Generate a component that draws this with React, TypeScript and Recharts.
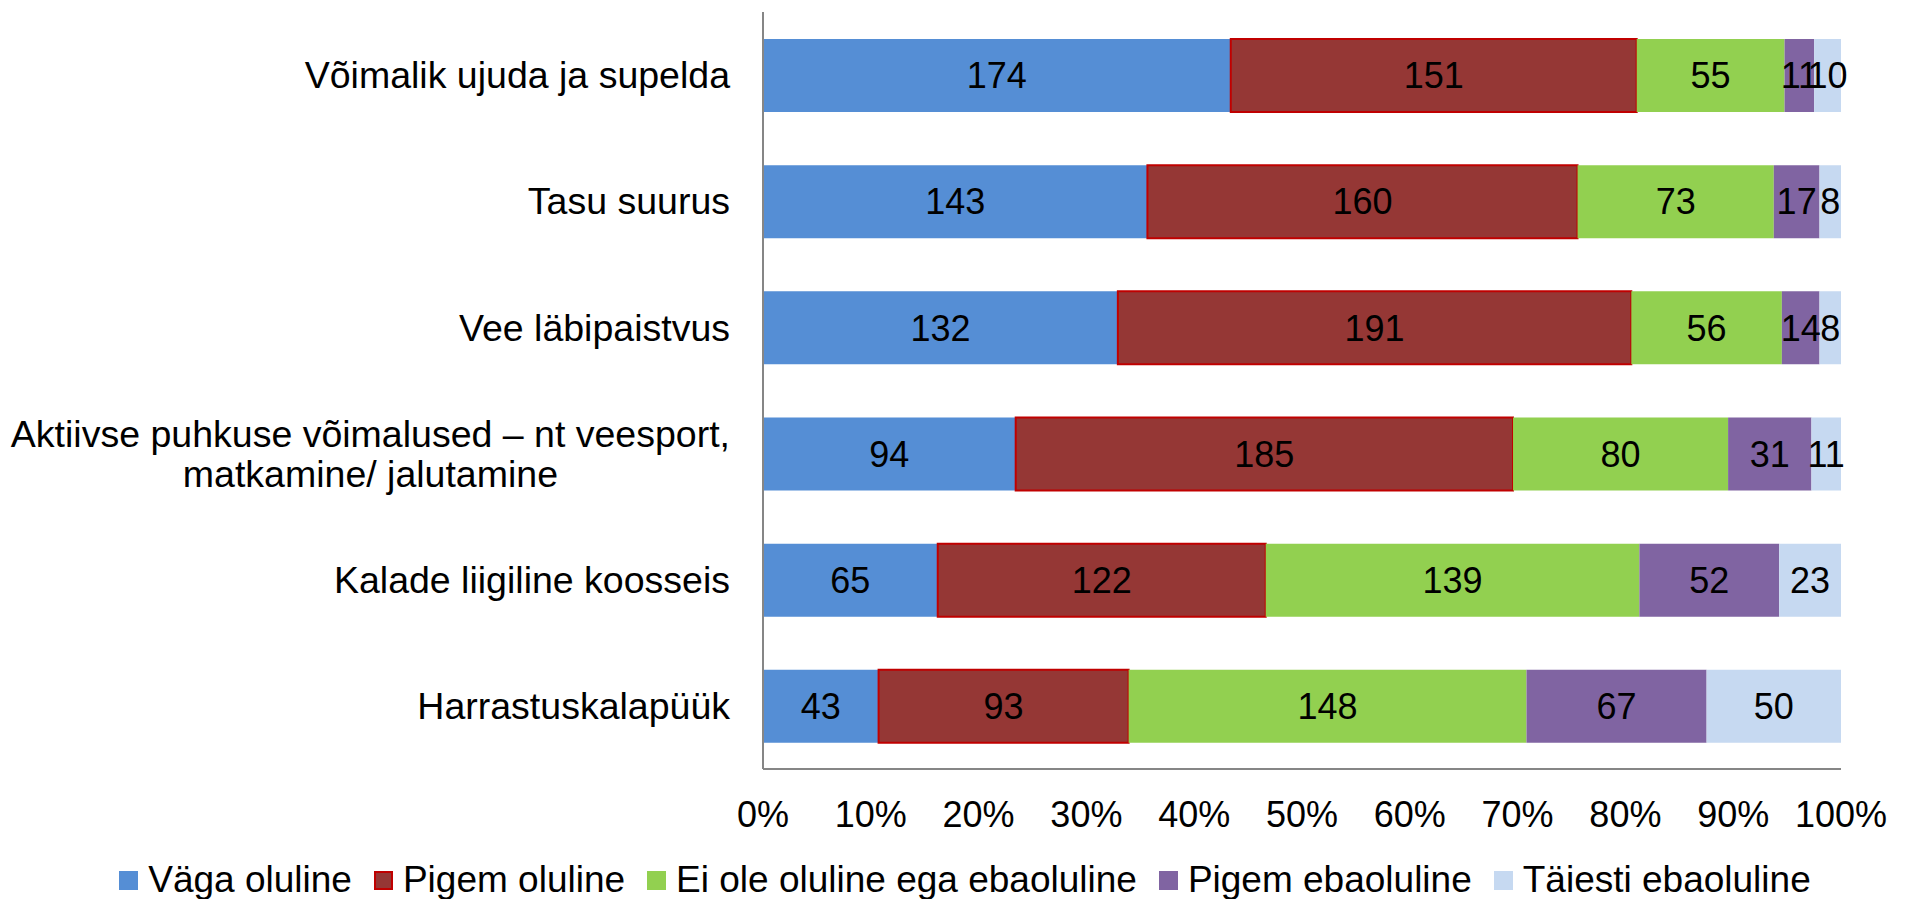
import React from 'react';
import { BarChart, Bar, XAxis, YAxis, LabelList } from 'recharts';

const FONT = '"Liberation Sans", Arial, sans-serif';
const CAT_SIZE = 37.5;

const categories = [
  'Võimalik ujuda ja supelda',
  'Tasu suurus',
  'Vee läbipaistvus',
  'Aktiivse puhkuse võimalused – nt veesport,\nmatkamine/ jalutamine',
  'Kalade liigiline koosseis',
  'Harrastuskalapüük',
];

const vagaOluline = [174, 143, 132, 94, 65, 43];
const pigemOluline = [151, 160, 191, 185, 122, 93];
const eiOleOluline = [55, 73, 56, 80, 139, 148];
const pigemEbaoluline = [11, 17, 14, 31, 52, 67];
const taiestiEbaoluline = [10, 8, 8, 11, 23, 50];

const xTicks = [0, 0.1, 0.2, 0.3, 0.4, 0.5, 0.6, 0.7, 0.8, 0.9, 1];

const SERIES = [
  { key: 'vaga', name: 'Väga oluline', values: vagaOluline, fill: '#558ED5', stroke: 'none' },
  { key: 'pigem', name: 'Pigem oluline', values: pigemOluline, fill: '#953735', stroke: '#C00000' },
  { key: 'eiole', name: 'Ei ole oluline ega ebaoluline', values: eiOleOluline, fill: '#92D050', stroke: 'none' },
  { key: 'pigemeba', name: 'Pigem ebaoluline', values: pigemEbaoluline, fill: '#8064A2', stroke: 'none' },
  { key: 'taiesti', name: 'Täiesti ebaoluline', values: taiestiEbaoluline, fill: '#C6D9F1', stroke: 'none' },
];

const rows = categories.map((c, i) => {
  const row: any = { category: c };
  SERIES.forEach((s) => { row[s.key] = s.values[i]; });
  return row;
});

let measureCtx: CanvasRenderingContext2D | null = null;
function textWidth(t: string) {
  if (!measureCtx) measureCtx = document.createElement('canvas').getContext('2d');
  if (!measureCtx) return t.length * 18;
  measureCtx.font = `${CAT_SIZE}px ${FONT}`;
  return measureCtx.measureText(t).width;
}

// category labels, the long one goes on two centred lines
function CategoryTick({ x, y, payload }: any) {
  const lines = String(payload?.value ?? '').split('\n');
  if (lines.length === 1) {
    return (
      <text x={x} y={y} dy="0.35em" textAnchor="end" fontSize={CAT_SIZE} fontFamily={FONT} fill="#000">
        {lines[0]}
      </text>
    );
  }
  const cx = x - textWidth(lines[0]) / 2;
  return (
    <text x={cx} y={y} textAnchor="middle" fontSize={CAT_SIZE} fontFamily={FONT} fill="#000">
      {lines.map((l, i) => (
        <tspan key={i} x={cx} dy={i === 0 ? `${0.35 - ((lines.length - 1) * 1.07) / 2}em` : '1.07em'}>
          {l}
        </tspan>
      ))}
    </text>
  );
}

export default function App() {
  return (
    <div style={{ position: 'relative', width: 1908, height: 899, background: '#fff', fontFamily: FONT }}>
      <style>{'body{margin:0}'}</style>
      <BarChart
        width={1908}
        height={899}
        data={rows}
        layout="vertical"
        stackOffset="expand"
        margin={{ top: 12, right: 67, bottom: 70, left: 0 }}
      >
        <XAxis
          type="number"
          domain={[0, 1]}
          ticks={xTicks}
          tickFormatter={(v: number) => `${Math.round(v * 100)}%`}
          tick={{ fontSize: 36, fill: '#000', fontFamily: FONT }}
          tickLine={false}
          tickMargin={26}
          axisLine={{ stroke: '#868686', strokeWidth: 2 }}
          height={60}
          interval={0}
        />
        <YAxis
          type="category"
          dataKey="category"
          width={763}
          tick={<CategoryTick />}
          tickLine={false}
          tickMargin={27}
          axisLine={{ stroke: '#868686', strokeWidth: 2 }}
          interval={0}
        />
        {SERIES.map((s) => (
          <Bar
            key={s.key}
            dataKey={s.key}
            name={s.name}
            stackId="a"
            fill={s.fill}
            stroke={s.stroke}
            strokeWidth={s.stroke === 'none' ? 0 : 2}
            barSize={73}
            isAnimationActive={false}
          >
            <LabelList dataKey={s.key} position="center" fill="#000" fontSize={36} fontFamily={FONT} />
          </Bar>
        ))}
      </BarChart>

      {/* legend row under the axis */}
      <div
        style={{
          position: 'absolute',
          left: 0,
          top: 860,
          width: 1908,
          height: 40,
          paddingLeft: 22,
          boxSizing: 'border-box',
          display: 'flex',
          justifyContent: 'center',
          alignItems: 'center',
          fontSize: 37,
          lineHeight: '40px',
          color: '#000',
          whiteSpace: 'nowrap',
        }}
      >
        {SERIES.map((s, i) => (
          <div key={s.key} style={{ display: 'flex', alignItems: 'center', marginLeft: i === 0 ? 0 : 22 }}>
            <span
              style={{
                display: 'inline-block',
                width: 19,
                height: 19,
                background: s.fill,
                boxSizing: 'border-box',
                border: s.stroke === 'none' ? 'none' : `2px solid ${s.stroke}`,
                marginRight: 10,
              }}
            />
            <span>{s.name}</span>
          </div>
        ))}
      </div>
    </div>
  );
}
